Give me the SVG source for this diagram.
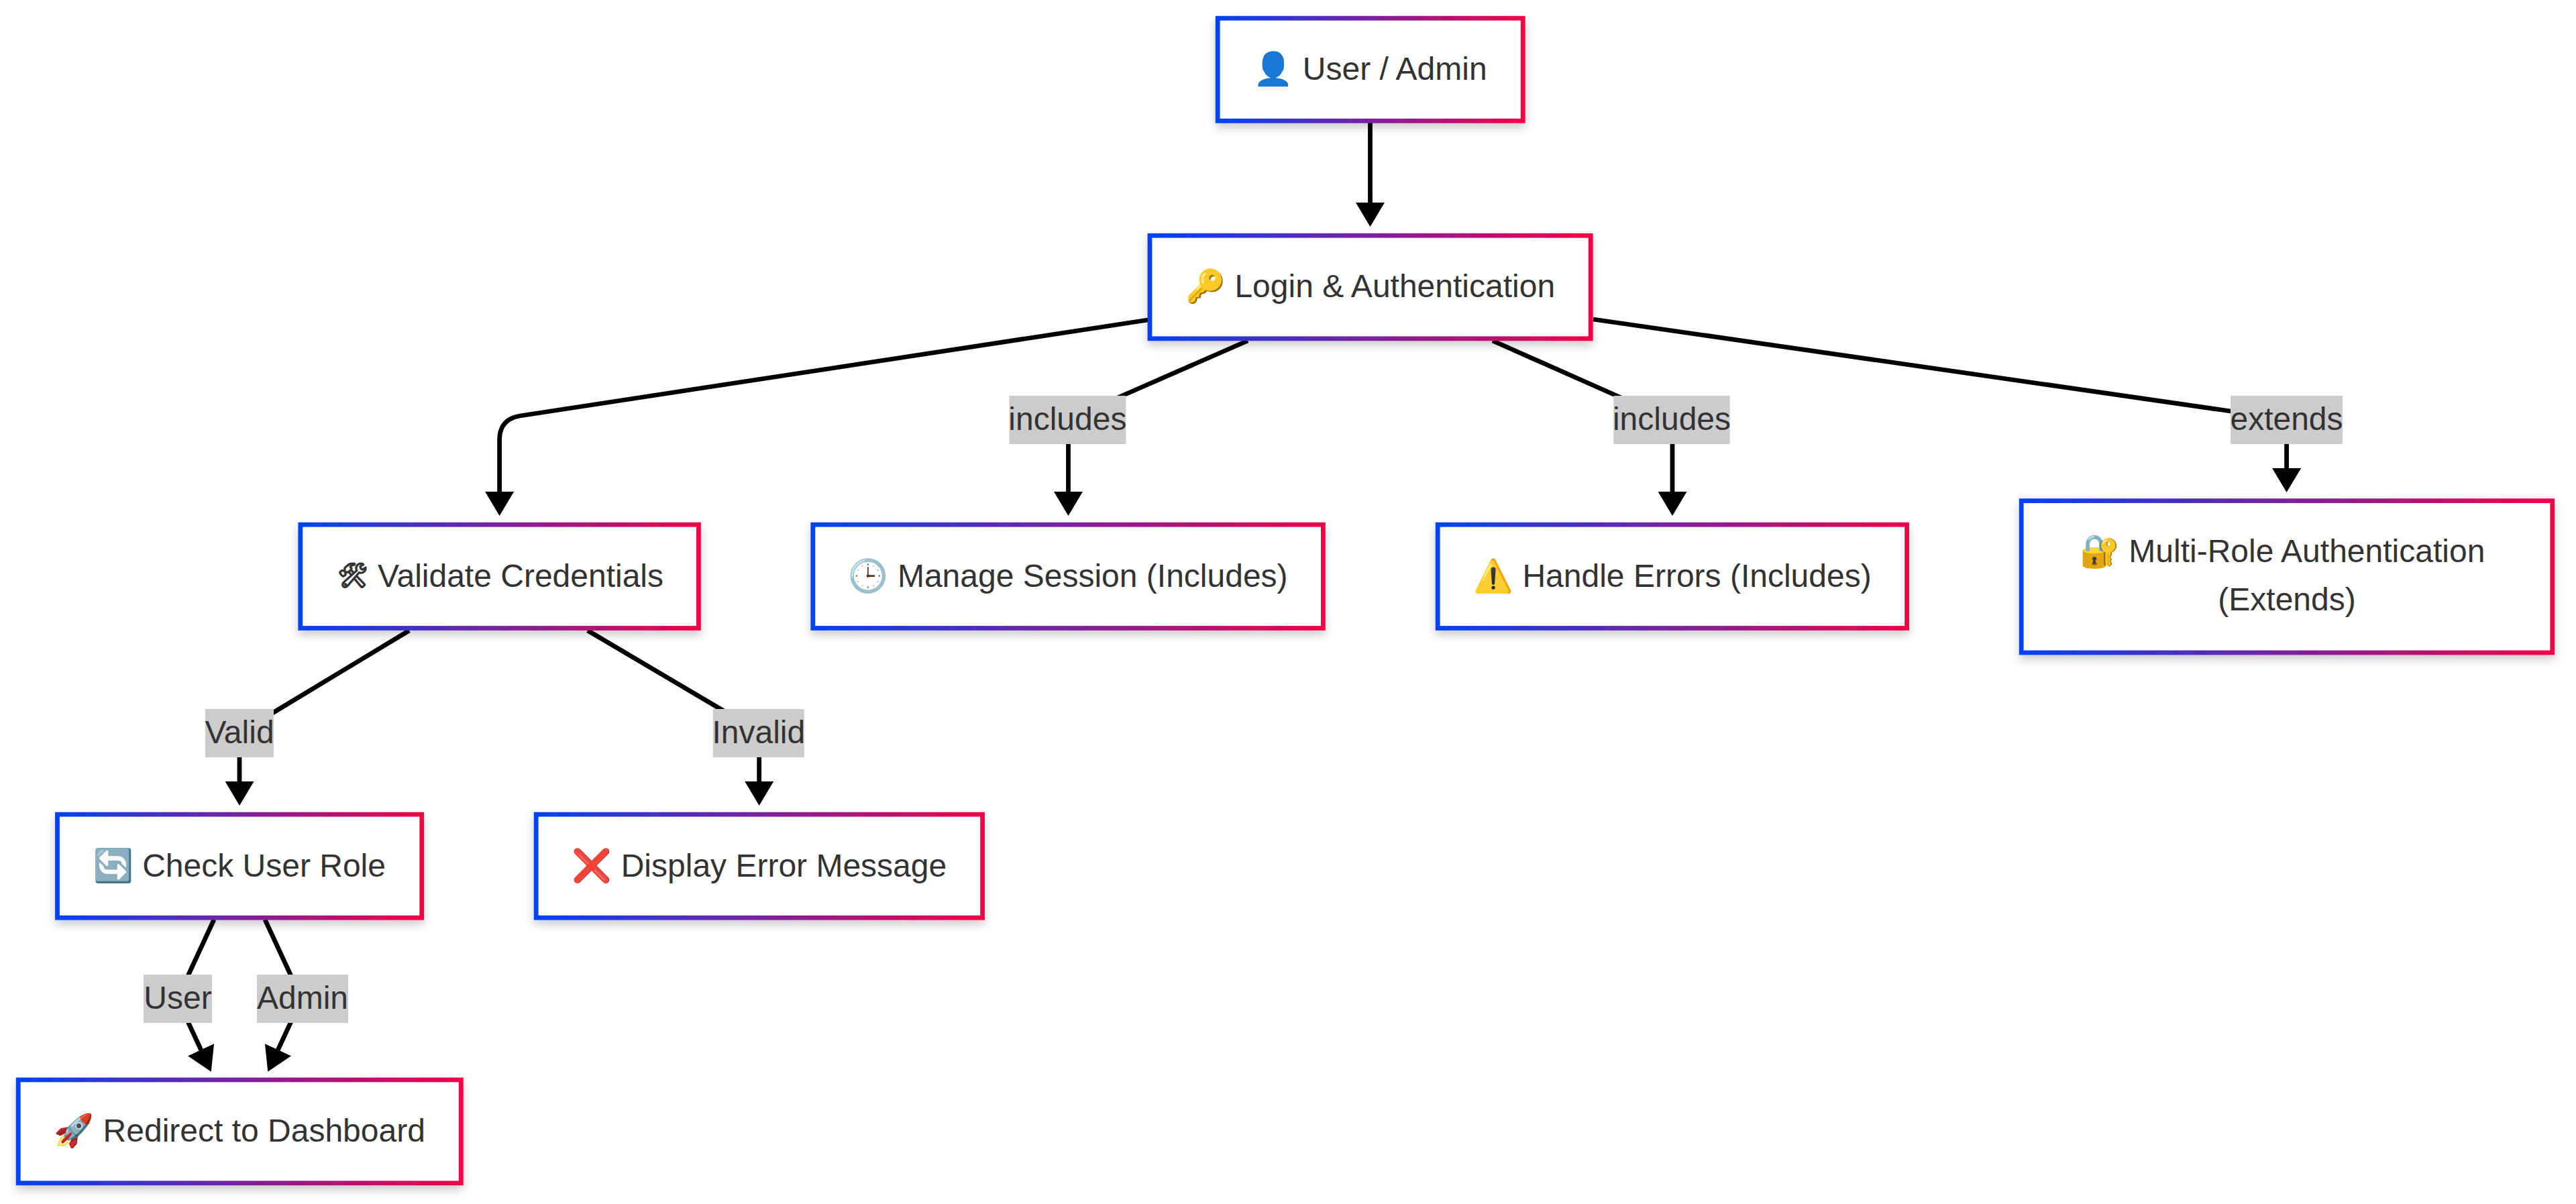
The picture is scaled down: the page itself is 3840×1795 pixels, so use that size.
<svg xmlns="http://www.w3.org/2000/svg" width="3840" height="1795" viewBox="0 0 3840 1795">
<style>
text{font-family:"Liberation Sans",Arial,"Noto Color Emoji",sans-serif;font-size:48px;fill:#333;text-anchor:middle}
.mono{font-size:36px;stroke:#333;stroke-width:1.8;text-anchor:start}
.start{text-anchor:start}
.box{fill:#fff;stroke:url(#g);stroke-width:6.8;filter:url(#sh)}
.lab{fill:#ccc}
.edge{fill:none;stroke:#000;stroke-width:6.8;marker-end:url(#arrow)}
</style>
<defs>
<linearGradient id="g" x1="0" y1="0" x2="1" y2="0"><stop offset="0" stop-color="#0042f8"/><stop offset="1" stop-color="#f40046"/></linearGradient>
<filter id="sh" x="-10%" y="-15%" width="120%" height="135%"><feDropShadow dx="0" dy="7" stdDeviation="7" flood-color="#000" flood-opacity="0.2"/></filter>
<marker id="arrow" markerUnits="userSpaceOnUse" viewBox="0 0 36 43" markerWidth="36" markerHeight="43" refX="1" refY="21.5" orient="auto"><path d="M0 0L36 21.5L0 43z" fill="#000"/></marker>
</defs>
<g id="connectors">
<path class="edge" d="M2042.5 183L2042.5 303"/>
<path class="edge" d="M1711 477L775 620Q745 625 744.6 655L744.6 734"/>
<path class="edge" d="M1860 508L1672.7 590L1612 617Q1592.5 626 1592.5 650L1592.5 734"/>
<path class="edge" d="M2225 508L2410 590L2473 618Q2493 627 2493 650L2493 734"/>
<path class="edge" d="M2375 476L3325 613Q3408.6 625 3408.6 650L3408.6 699"/>
<path class="edge" d="M610 940L408 1062L380 1079Q357 1093 357 1112L357 1166"/>
<path class="edge" d="M876 940L1074 1057L1110 1078Q1131.7 1091 1131.7 1112L1131.7 1166"/>
<path class="edge" d="M319 1371L281 1453Q270 1489 281 1525L300 1566"/>
<path class="edge" d="M395 1371L433 1453Q444 1489 433 1525L414 1566"/>
</g>
<g id="edge-labels">
<g><rect class="lab" x="1504.4" y="590" width="174" height="72"/><text x="1591.4" y="640.7">includes</text></g>
<g><rect class="lab" x="2405.3" y="590" width="173.4" height="72"/><text x="2492" y="640.7">includes</text></g>
<g><rect class="lab" x="3325" y="590" width="167" height="72"/><text x="3408.5" y="640.7">extends</text></g>
<g><rect class="lab" x="306" y="1057" width="102" height="72"/><text x="357" y="1108.3">Valid</text></g>
<g><rect class="lab" x="1062.8" y="1057" width="136" height="72"/><text x="1130.8" y="1108.3">Invalid</text></g>
<g><rect class="lab" x="214" y="1453" width="102" height="72"/><text x="265" y="1503.5">User</text></g>
<g><rect class="lab" x="383" y="1453" width="136" height="72"/><text x="451" y="1503.5">Admin</text></g>
</g>
<g id="n-user"><rect class="box" x="1815.2" y="27.2" width="455" height="153"/><text x="2042.7" y="119">👤 User / Admin</text></g>
<g id="n-login"><rect class="box" x="1714" y="351.2" width="657.2" height="153.6"/><text x="2042.7" y="443">🔑 Login &amp; Authentication</text></g>
<g id="n-validate"><rect class="box" x="447.8" y="782.2" width="593.6" height="154.3"/><text class="mono" x="503" y="869.5">🛠&#xFE0E;</text><text class="start" x="563" y="874.5">Validate Credentials</text></g>
<g id="n-session"><rect class="box" x="1211.8" y="782.2" width="760.6" height="154.3"/><text x="1592.2" y="874.5">🕒 Manage Session (Includes)</text></g>
<g id="n-errors"><rect class="box" x="2143.2" y="782.2" width="699.4" height="154.3"/><text x="2493" y="874.5">⚠️ Handle Errors (Includes)</text></g>
<g id="n-multi"><rect class="box" x="3013.2" y="746.6" width="791.6" height="226.4"/><text x="3402.3" y="838.3">🔐 Multi-Role Authentication</text><text x="3409" y="910">(Extends)</text></g>
<g id="n-check"><rect class="box" x="85.5" y="1214.2" width="543.2" height="154"/><text x="357" y="1307">🔄 Check User Role</text></g>
<g id="n-display"><rect class="box" x="799.2" y="1214.2" width="665.4" height="154"/><text x="1131.9" y="1307">❌ Display Error Message</text></g>
<g id="n-redirect"><rect class="box" x="27.2" y="1609.9" width="660.1" height="153.9"/><text x="357.2" y="1702">🚀 Redirect to Dashboard</text></g>
</svg>
